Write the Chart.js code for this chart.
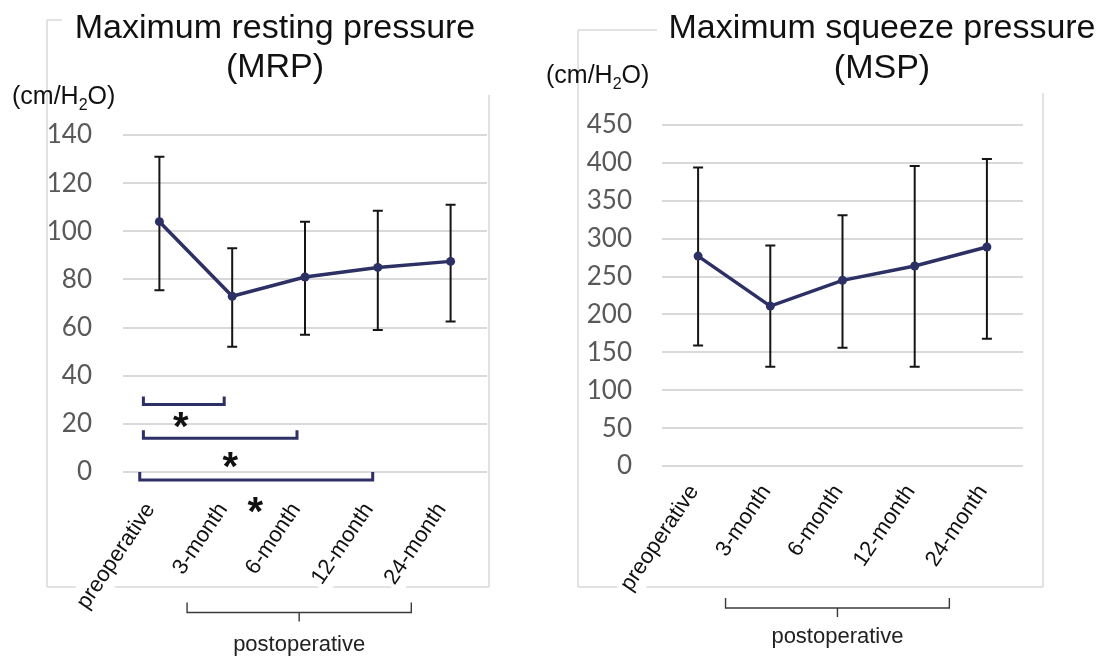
<!DOCTYPE html>
<html><head><meta charset="utf-8">
<script src="https://cdn.jsdelivr.net/npm/chart.js@4.4.1/dist/chart.umd.min.js"></script>
<style>
html,body{margin:0;padding:0;background:#fff;width:1104px;height:657px;overflow:hidden;}
#cL{position:absolute;left:0;top:0;}
#cR{position:absolute;left:520px;top:0;}
</style></head><body>
<canvas id="cL" width="520" height="657"></canvas>
<canvas id="cR" width="584" height="657"></canvas>
<script>
// ---------- data ----------
const categories = ['preoperative', '3-month', '6-month', '12-month', '24-month'];
const mrpMean  = [104, 73, 81, 85, 87.5];
const mrpUpper = [131, 93, 104, 108.5, 111];
const mrpLower = [75.5, 52, 57, 59, 62.5];
const mrpMax = 140, mrpStep = 20;
const mspMean  = [277, 211, 245, 264, 289];
const mspUpper = [394, 291, 331, 396, 405];
const mspLower = [159, 131, 156, 131, 168];
const mspMax = 450, mspStep = 50;
const sigPairs  = [[0, 1], [0, 2], [0, 3]];
const sigLevels = [28, 14, -3.3];
const sigLabel = '*';
const groupLabel = 'postoperative';
const groupFrom = 1, groupTo = 4;
const titleMRP = ['Maximum resting pressure', '(MRP)'];
const titleMSP = ['Maximum squeeze pressure', '(MSP)'];

// ---------- styles ----------
const NAVY = '#2d3064';
const sigStyle = [ {a:-0.22, b:-0.11, sx:-3, sy:12}, {a:-0.22, b:-0.11, sx:10, sy:19}, {a:-0.27, b:-0.07, sx:-1, sy:22} ];

const decor = {
  id: 'decor',
  beforeDraw(chart, args, o) {
    const ctx = chart.ctx;
    ctx.save();
    ctx.strokeStyle = '#d9d9d9'; ctx.lineWidth = 1.5;
    ctx.beginPath();
    for (const s of o.frame) { ctx.moveTo(s[0], s[1]); ctx.lineTo(s[2], s[3]); }
    ctx.stroke();
    ctx.restore();
  },
  beforeDatasetsDraw(chart, args, o) {
    const ctx = chart.ctx, xs = chart.scales.x, ys = chart.scales.y;
    ctx.save();
    ctx.strokeStyle = '#151515'; ctx.lineWidth = 2;
    ctx.beginPath();
    o.upper.forEach((u, i) => {
      const x = xs.getPixelForValue(i), yu = ys.getPixelForValue(u), yl = ys.getPixelForValue(o.lower[i]);
      ctx.moveTo(x, yu); ctx.lineTo(x, yl);
      ctx.moveTo(x - 5, yu); ctx.lineTo(x + 5, yu);
      ctx.moveTo(x - 5, yl); ctx.lineTo(x + 5, yl);
    });
    ctx.stroke();
    ctx.restore();
  },
  afterDraw(chart, args, o) {
    const ctx = chart.ctx, xs = chart.scales.x, ys = chart.scales.y;
    ctx.save();
    ctx.fillStyle = '#111';
    // title
    ctx.font = '34px "Liberation Sans", Arial, sans-serif';
    ctx.textAlign = 'center'; ctx.textBaseline = 'alphabetic';
    o.title.forEach((t, i) => ctx.fillText(t, o.titleX, o.titleY[i]));
    // unit label with subscript
    ctx.textAlign = 'left';
    let ux = o.unitX;
    const f1 = '25px "Liberation Sans", Arial, sans-serif', f2 = '16px "Liberation Sans", Arial, sans-serif';
    ctx.font = f1; ctx.fillText('(cm/H', ux, o.unitY); ux += ctx.measureText('(cm/H').width;
    ctx.font = f2; ctx.fillText('2', ux, o.unitY + 6); ux += ctx.measureText('2').width;
    ctx.font = f1; ctx.fillText('O)', ux, o.unitY);
    // group brace
    const xa = xs.getPixelForValue(groupFrom + o.braceA), xb = xs.getPixelForValue(groupTo + o.braceB);
    const xm = (xa + xb) / 2;
    ctx.strokeStyle = '#3a3a3a'; ctx.lineWidth = 1.4;
    ctx.beginPath();
    ctx.moveTo(xa, o.braceY - 10); ctx.lineTo(xa, o.braceY); ctx.lineTo(xb, o.braceY); ctx.lineTo(xb, o.braceY - 10);
    ctx.moveTo(xm, o.braceY); ctx.lineTo(xm, o.braceY + 9);
    ctx.stroke();
    ctx.font = '22px "Liberation Sans", Arial, sans-serif';
    ctx.textAlign = 'center';
    ctx.fillStyle = '#222';
    ctx.fillText(groupLabel, xm, o.groupTextY);
    // significance brackets
    if (o.sig) {
      ctx.strokeStyle = NAVY; ctx.lineWidth = 3; ctx.lineJoin = 'miter';
      sigPairs.forEach((p, k) => {
        const st = sigStyle[k];
        const x1 = xs.getPixelForValue(p[0] + st.a), x2 = xs.getPixelForValue(p[1] + st.b);
        const y = ys.getPixelForValue(sigLevels[k]);
        ctx.beginPath();
        ctx.moveTo(x1, y - 8); ctx.lineTo(x1, y); ctx.lineTo(x2, y); ctx.lineTo(x2, y - 8);
        ctx.stroke();
        ctx.fillStyle = '#111';
        ctx.font = 'bold 40px "Liberation Sans", Arial, sans-serif';
        ctx.textAlign = 'center';
        ctx.fillText(sigLabel, (x1 + x2) / 2 + st.sx, y + st.sy + 23);
      });
    }
    ctx.restore();
  }
};

function makeChart(id, means, upper, lower, ymax, step, cfg) {
  return new Chart(document.getElementById(id), {
    type: 'line',
    data: {
      labels: categories,
      datasets: [{
        data: means, borderColor: NAVY, backgroundColor: NAVY, borderWidth: 3.5,
        pointRadius: 4.5, pointBackgroundColor: NAVY, pointBorderWidth: 0, tension: 0
      }]
    },
    options: {
      responsive: false, animation: false, devicePixelRatio: 1,
      layout: { padding: cfg.padding },
      plugins: {
        legend: { display: false }, tooltip: { enabled: false }, title: { display: false },
        decor: Object.assign({ upper, lower }, cfg.decor)
      },
      scales: {
        x: {
          type: 'category', offset: true,
          grid: { display: false }, border: { display: false },
          ticks: { color: '#111', font: { family: '"Liberation Sans", Arial, sans-serif', size: 22 },
                   minRotation: 56, maxRotation: 56, autoSkip: false, padding: cfg.xPad,
                   labelOffset: cfg.xOff,
                   showLabelBackdrop: true, backdropColor: '#ffffff', backdropPadding: 3 },
          afterFit: s => { s.height = cfg.xH; }
        },
        y: {
          min: 0, max: ymax,
          ticks: { stepSize: step, color: '#595959', font: { family: 'Lato', size: 26 }, padding: cfg.yPad },
          grid: { color: '#d9d9d9', lineWidth: 2, drawTicks: false }, border: { display: false },
          afterFit: s => { s.width = cfg.yW; }
        }
      }
    },
    plugins: [decor]
  });
}

makeChart('cL', mrpMean, mrpUpper, mrpLower, mrpMax, mrpStep, {
  padding: { left: 0, right: 33, top: 135, bottom: 0 }, xH: 185, yW: 123, yPad: 31, xPad: 18, xOff: -20,
  decor: {
    frame: [[47,20,47,587],[47,20,62,20],[489,95,489,587],[47,587,489,587]],
    title: titleMRP, titleX: 275, titleY: [38, 77], unitX: 12, unitY: 104,
    braceA: -0.62, braceB: -0.54, braceY: 612.5, groupTextY: 651, sig: true
  }
});
makeChart('cR', mspMean, mspUpper, mspLower, mspMax, mspStep, {
  padding: { left: 0, right: 81, top: 125, bottom: 0 }, xH: 191, yW: 142, yPad: 30, xPad: 6, xOff: -15,
  decor: {
    frame: [[58,30,58,587],[58,30,137,30],[523,93,523,587],[58,587,523,587]],
    title: titleMSP, titleX: 362, titleY: [38, 78], unitX: 26, unitY: 83,
    braceA: -0.62, braceB: -0.52, braceY: 608, groupTextY: 643, sig: false
  }
});
</script>
</body></html>
